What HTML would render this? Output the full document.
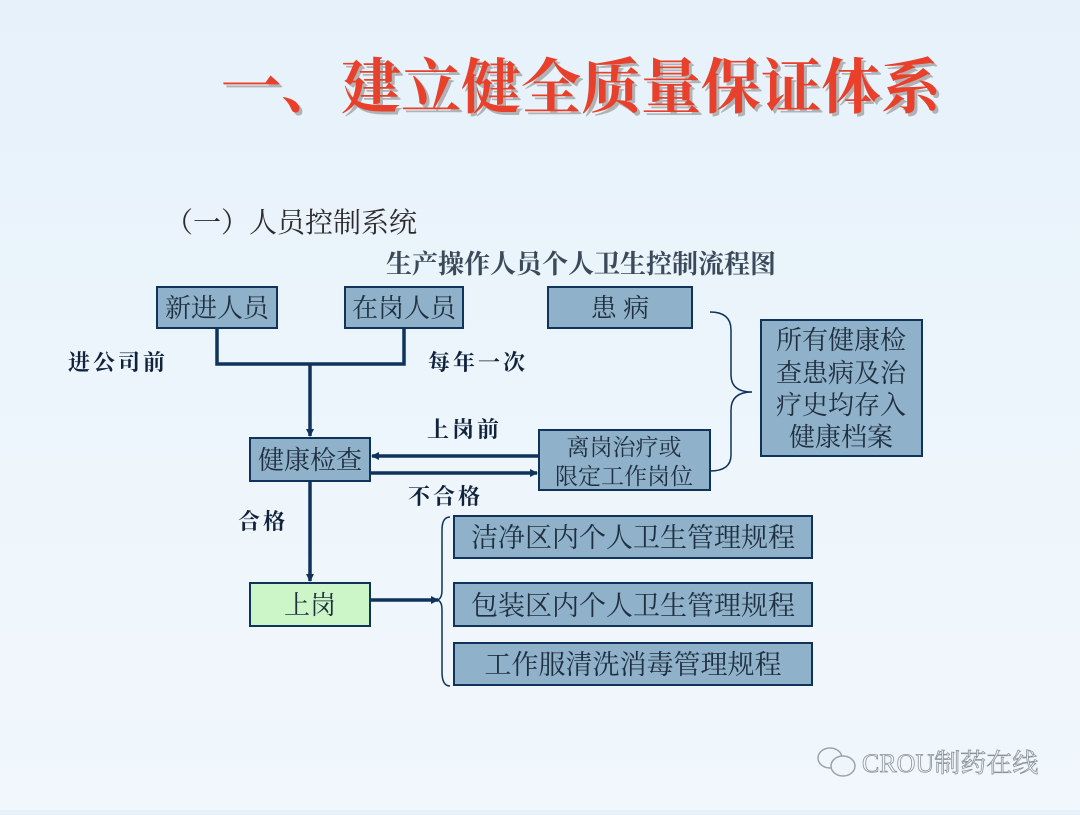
<!DOCTYPE html>
<html><head><meta charset="utf-8"><style>
html,body{margin:0;padding:0}
body{width:1080px;height:810px;overflow:hidden;background:linear-gradient(180deg,#e6f1fa 0%,#eef6fc 60%,#f1f7fc 100%);font-family:"Liberation Serif","Noto Serif CJK SC",serif}
svg text{font-family:"Liberation Serif","Noto Serif CJK SC",serif}
</style></head><body>
<svg width="1080" height="810" xmlns="http://www.w3.org/2000/svg">
<defs><marker id="a" markerWidth="8" markerHeight="8" refX="7" refY="4" orient="auto" markerUnits="userSpaceOnUse"><path d="M0,0 L8,4 L0,8 z" fill="#10335c"/></marker></defs>
<text x="581" y="108" text-anchor="middle" font-size="60" font-weight="bold" fill="#8a8a8a" opacity="0.6" transform="translate(3,3)">一、建立健全质量保证体系</text>
<text x="581" y="108" text-anchor="middle" font-size="60" font-weight="bold" fill="#e8402a">一、建立健全质量保证体系</text>
<text x="165" y="232" font-size="28" fill="#2a2a2a" font-family="Liberation Sans,Noto Sans CJK SC,sans-serif">（一）人员控制系统</text>
<text x="581" y="273" text-anchor="middle" font-size="26" font-weight="bold" fill="#3a4a5a">生产操作人员个人卫生控制流程图</text>
<g fill="#8fb1c9" stroke="#10335c" stroke-width="2">
<rect x="157" y="287" width="120" height="41"/>
<rect x="345" y="287" width="118" height="41"/>
<rect x="548" y="287" width="144" height="41"/>
<rect x="761" y="320" width="161" height="136"/>
<rect x="250" y="438" width="120" height="43"/>
<rect x="539" y="430" width="171" height="60"/>
<rect x="454" y="516" width="358" height="42"/>
<rect x="454" y="583" width="358" height="43"/>
<rect x="454" y="643" width="358" height="42"/>
</g>
<rect x="250" y="583" width="120" height="43" fill="#ccf5c8" stroke="#10335c" stroke-width="2"/>
<g font-size="26" fill="#1f2f3f" text-anchor="middle">
<text x="217" y="317">新进人员</text>
<text x="404" y="317">在岗人员</text>
<text x="620" y="317">患  病</text>
<text x="310" y="469">健康检查</text>
<text x="310" y="614">上岗</text>
<text x="841" y="349">所有健康检</text>
<text x="841" y="382">查患病及治</text>
<text x="841" y="414">疗史均存入</text>
<text x="841" y="446">健康档案</text>
<text x="624" y="455" font-size="23">离岗治疗或</text>
<text x="624" y="484" font-size="23">限定工作岗位</text>
<text x="633" y="547" font-size="27">洁净区内个人卫生管理规程</text>
<text x="633" y="615" font-size="27">包装区内个人卫生管理规程</text>
<text x="633" y="674" font-size="27">工作服清洗消毒管理规程</text>
</g>
<g stroke="#10335c" stroke-width="3.5" fill="none">
<polyline points="217,328 217,364 404,364 404,328"/>
<line x1="310" y1="364" x2="310" y2="436" marker-end="url(#a)"/>
<line x1="539" y1="456" x2="372" y2="456" marker-end="url(#a)"/>
<line x1="370" y1="473" x2="537" y2="473" marker-end="url(#a)"/>
<line x1="310" y1="481" x2="310" y2="581" marker-end="url(#a)"/>
<line x1="370" y1="600" x2="438" y2="600" marker-end="url(#a)"/>
</g>
<path d="M450,517 Q442,517 442,530 L442,590 Q442,600 436,600 Q442,600 442,610 L442,672 Q442,686 450,686" stroke="#10335c" stroke-width="1.5" fill="none"/>
<path d="M710,312 Q731,312 731,330 L731,375 Q731,392 752,392 Q731,392 731,410 L731,455 Q731,471 710,471" stroke="#10335c" stroke-width="1.5" fill="none"/>
<g font-size="22" font-weight="bold" fill="#10223c" letter-spacing="3">
<text x="68" y="370">进公司前</text>
<text x="428" y="370">每年一次</text>
<text x="427" y="437">上岗前</text>
<text x="408" y="504">不合格</text>
<text x="238" y="529">合格</text>
</g>
<g fill="none" stroke="#9aa4ad" stroke-width="1.5">
<ellipse cx="830" cy="758" rx="12" ry="10"/>
<ellipse cx="843" cy="766" rx="12" ry="10" fill="#eef5fb"/>
</g>
<text x="862" y="772" font-size="26" fill="#f4f8fb" stroke="#8a939c" stroke-width="0.8" font-family="Liberation Sans,Noto Sans CJK SC,sans-serif">CROU制药在线</text>
</svg>
</body></html>
